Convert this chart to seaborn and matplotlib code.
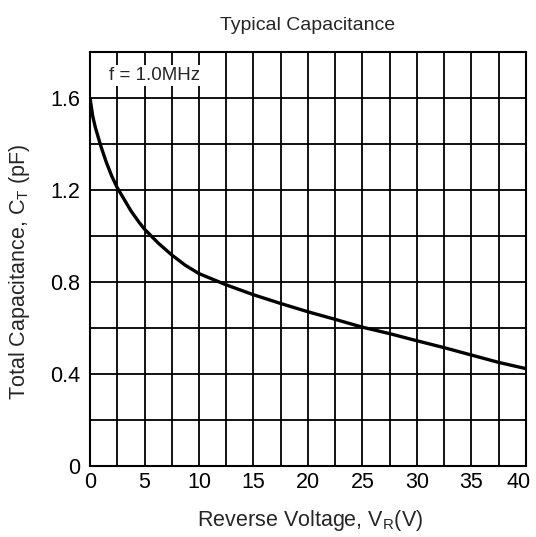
import pandas as pd
import matplotlib.pyplot as plt
import seaborn as sns
from matplotlib.ticker import MultipleLocator, FuncFormatter
from matplotlib.transforms import ScaledTranslation

# Curve values
reverse_voltage = [0, 0.25, 0.5, 1, 1.5, 2, 2.5, 3, 3.75, 4.5, 5, 6.25, 7.5, 8.75, 10,
                   12.5, 15, 17.5, 20, 22.5, 25, 27.5, 30, 32.5, 35, 37.5, 40]
capacitance = [1.60, 1.52, 1.47, 1.39, 1.32, 1.26, 1.21, 1.17, 1.11, 1.06, 1.03, 0.97,
               0.918, 0.873, 0.837, 0.788, 0.745, 0.707, 0.671, 0.638, 0.604, 0.576,
               0.545, 0.515, 0.483, 0.451, 0.424]
x_ticks = [0, 5, 10, 15, 20, 25, 30, 35, 40]

df = pd.DataFrame({'VR': reverse_voltage, 'CT': capacitance})

sns.set_theme(style='white')
plt.rcParams['font.family'] = ['Liberation Sans', 'DejaVu Sans']
plt.rcParams['mathtext.fontset'] = 'custom'
plt.rcParams['mathtext.rm'] = 'Liberation Sans'

fig = plt.figure(figsize=(5.36, 5.37), dpi=100)
ax = fig.add_axes([0.168, 0.132, 0.813, 0.771])

sns.lineplot(data=df, x='VR', y='CT', color='black', linewidth=2.4, ax=ax)

ax.set_xlim(0, 40)
ax.set_ylim(0, 1.8)
ax.set_xticks(x_ticks, [str(t) for t in x_ticks])
ax.xaxis.set_minor_locator(MultipleLocator(2.5))
ax.yaxis.set_major_locator(MultipleLocator(0.4))
ax.yaxis.set_minor_locator(MultipleLocator(0.2))
ax.yaxis.set_major_formatter(FuncFormatter(lambda v, p: '0' if v == 0 else f'{v:.1f}'))
ax.grid(which='both', color='black', linewidth=1.3)
ax.set_axisbelow(True)
ax.tick_params(which='both', length=0, labelsize=15.5, colors='black')
ax.tick_params(axis='y', pad=7)
ax.tick_params(axis='x', pad=4)
for s in ax.spines.values():
    s.set_color('black')
    s.set_linewidth(1.5)

ax.set_xlabel('Reverse Voltage, V$_\\mathregular{R}$(V)', fontsize=15.5)
ax.set_ylabel('Total Capacitance, C$_\\mathregular{T}$ (pF)', fontsize=15.5)
ax.xaxis.set_label_coords(0.505, -0.1)
ax.yaxis.set_label_coords(-0.133, 0.47)
ax.set_title('Typical Capacitance', fontsize=14, pad=16)

ax.text(5.9, 1.70, 'f = 1.0MHz', fontsize=13.5, ha='center', va='center',
        bbox=dict(facecolor='white', edgecolor='none', pad=1.5))

# nudge the last x label in from the edge, as in the reference
last = ax.get_xticklabels()[-1]
last.set_transform(last.get_transform() + ScaledTranslation(-7 / 100, 0, fig.dpi_scale_trans))

plt.savefig('out.png', dpi=100)
